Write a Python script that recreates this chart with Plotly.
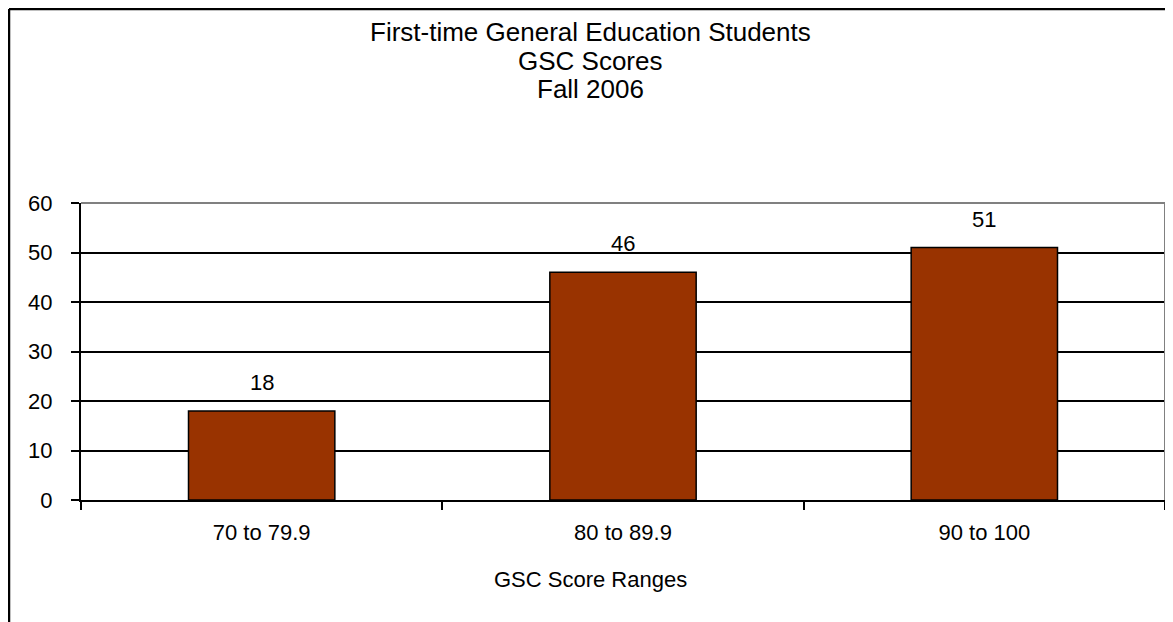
import plotly.graph_objects as go

categories = ["70 to 79.9", "80 to 89.9", "90 to 100"]
values = [18, 46, 51]
y_ticks = [0, 10, 20, 30, 40, 50, 60]
title_lines = ["First-time General Education Students", "GSC Scores", "Fall 2006"]
x_title = "GSC Score Ranges"

FONT = "Liberation Sans, Arial, sans-serif"
W, H = 1165, 614
ML, MR, MT, MB = 73, 8, 195, 122
PW = W - ML - MR
PH = H - MT - MB


def py(fig_y):
    """figure-pixel y (from top) -> paper y"""
    return 1 + (MT - fig_y) / PH


def px(fig_x):
    """figure-pixel x (from left) -> paper x"""
    return (fig_x - ML) / PW


fig = go.Figure(
    go.Bar(
        x=categories,
        y=values,
        marker=dict(color="#993300", line=dict(color="black", width=1.5)),
        hoverinfo="x+y",
    )
)

for c, v in zip(categories, values):
    fig.add_annotation(
        x=c, y=v, text=str(v), showarrow=False,
        yanchor="bottom", yshift=14,
        font=dict(family=FONT, size=22, color="black"),
    )

# title lines
for i, line in enumerate(title_lines):
    fig.add_annotation(
        xref="paper", x=px(W / 2), xanchor="center",
        yref="paper", y=py(24 + 28.5 * i), yanchor="middle",
        text=line, showarrow=False,
        font=dict(family=FONT, size=26, color="black"),
    )

# x-axis title
fig.add_annotation(
    xref="paper", x=px(W / 2), xanchor="center",
    yref="paper", y=py(571), yanchor="middle",
    text=x_title, showarrow=False,
    font=dict(family=FONT, size=22, color="black"),
)

fig.update_layout(
    width=W,
    height=H,
    paper_bgcolor="white",
    plot_bgcolor="white",
    margin=dict(l=ML, r=MR, t=MT, b=MB),
    bargap=0.595,
    showlegend=False,
    font=dict(family=FONT, color="black"),
    xaxis=dict(
        type="category",
        showline=True,
        linecolor="black",
        linewidth=2,
        ticks="outside",
        tickson="boundaries",
        ticklen=8,
        tickwidth=2,
        tickcolor="black",
        showgrid=False,
        ticklabelstandoff=12,
        tickfont=dict(family=FONT, size=22, color="black"),
    ),
    yaxis=dict(
        range=[0, 60],
        tickvals=y_ticks,
        showline=True,
        linecolor="black",
        linewidth=2,
        ticks="outside",
        ticklen=8,
        tickwidth=2,
        tickcolor="black",
        showgrid=True,
        gridcolor="black",
        gridwidth=1.5,
        zeroline=False,
        ticklabelstandoff=14,
        tickfont=dict(family=FONT, size=22, color="black"),
    ),
    shapes=[
        dict(type="line", xref="paper", yref="paper", x0=0, x1=1, y0=1, y1=1,
             line=dict(color="#808080", width=2), layer="above"),
        dict(type="line", xref="paper", yref="paper", x0=1, x1=1, y0=0, y1=1,
             line=dict(color="#808080", width=2), layer="above"),
        dict(type="line", xref="paper", yref="paper",
             x0=px(1), x1=px(1), y0=-0.6, y1=py(1),
             line=dict(color="black", width=2.5)),
        dict(type="line", xref="paper", yref="paper",
             x0=px(1), x1=1.1, y0=py(1), y1=py(1),
             line=dict(color="black", width=2.5)),
    ],
)

fig.write_html("out.html")
